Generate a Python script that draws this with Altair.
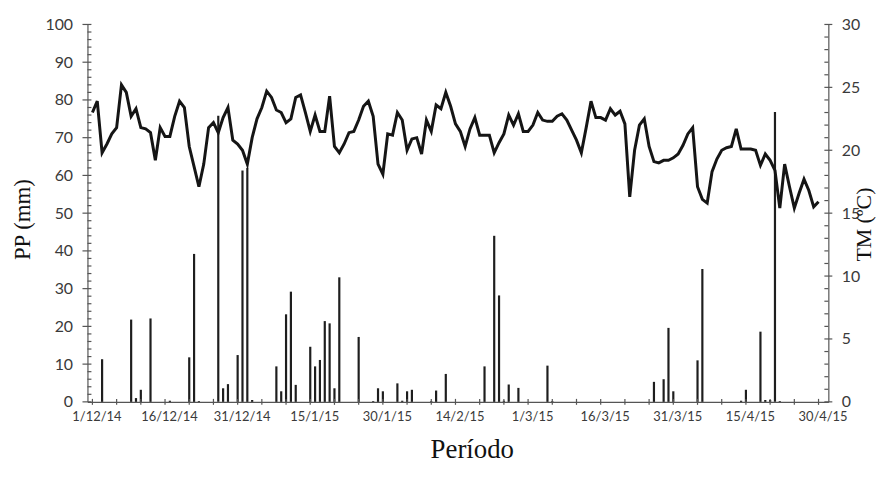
import altair as alt
import pandas as pd

W, H = 746, 380

# x tick labels (every 15 days, day index 0 = 1/12/14)
x_labels = ["1/12/14", "16/12/14", "31/12/14", "15/1/15", "30/1/15", "14/2/15",
            "1/3/15", "16/3/15", "31/3/15", "15/4/15", "30/4/15"]

# daily mean temperature TM (ºC), 1/12/14 .. 30/4/15
tm = [23.0, 23.9, 19.8, 20.5, 21.3, 21.8, 25.2, 24.6, 22.7, 23.3,
      21.8, 21.7, 21.4, 19.2, 21.8, 21.1, 21.1, 22.7, 23.9, 23.4,
      20.3, 18.7, 17.1, 18.9, 21.8, 22.2, 21.4, 22.6, 23.4, 20.8,
      20.5, 20.0, 18.9, 21.0, 22.5, 23.4, 24.7, 24.2, 23.2, 23.0,
      22.2, 22.5, 24.2, 24.4, 23.0, 21.5, 22.8, 21.5, 21.5, 24.3,
      20.3, 19.8, 20.5, 21.4, 21.5, 22.4, 23.5, 23.9, 22.7, 18.9,
      18.1, 21.3, 21.2, 23.0, 22.4, 20.0, 20.9, 21.0, 19.7, 22.4,
      21.5, 23.6, 23.3, 24.6, 23.5, 22.1, 21.5, 20.3, 21.7, 22.6,
      21.2, 21.2, 21.2, 19.8, 20.6, 21.3, 22.8, 22.0, 22.9, 21.5,
      21.5, 22.0, 23.0, 22.4, 22.3, 22.3, 22.7, 22.9, 22.4, 21.6,
      20.8, 19.8, 21.8, 23.9, 22.6, 22.6, 22.4, 23.3, 22.8, 23.1,
      22.1, 16.3, 20.0, 22.0, 22.5, 20.3, 19.1, 19.0, 19.2, 19.2,
      19.4, 19.7, 20.4, 21.3, 21.8, 17.1, 16.1, 15.8, 18.3, 19.3,
      20.0, 20.2, 20.3, 21.7, 20.1, 20.1, 20.1, 20.0, 18.8, 19.7,
      19.2, 18.4, 15.4, 18.9, 17.1, 15.4, 16.6, 17.7, 16.8, 15.5,
      15.9]
tm_days = list(range(len(tm)))

# daily precipitation PP (mm): rainy days (day index) and amounts
pp_days = [2, 8, 9, 10, 12, 16, 20, 21, 22, 26, 27, 28, 30, 31, 32, 33, 38, 39, 40, 41,
           42, 45, 46, 47, 48, 49, 50, 51, 55, 58, 59, 60, 63, 64, 65, 66, 70, 71, 73, 81,
           83, 84, 85, 86, 88, 94, 95, 116, 118, 119, 120, 125, 126, 134, 135, 138, 139, 140, 141, 142]
pp_vals = [11.3, 21.8, 1.0, 3.2, 22.1, 0.3, 11.8, 39.2, 0.2, 75.8, 3.6, 4.7, 12.4, 61.3, 62.0, 0.5, 9.4, 2.8, 23.2, 29.2,
           4.5, 14.6, 9.4, 11.1, 21.4, 20.8, 3.6, 33.0, 17.2, 0.2, 3.6, 2.8, 4.9, 0.3, 2.8, 3.2, 0.2, 3.0, 7.4, 9.4,
           44.0, 28.2, 0.3, 4.6, 3.7, 9.6, 0.2, 5.3, 6.0, 19.6, 2.8, 11.0, 35.2, 0.3, 3.2, 18.6, 0.5, 0.5, 76.8, 0.2]

# axis tick values
x_label_ticks = list(range(0, 151, 15))
x_minor = list(range(0, 151, 5))
pp_major = list(range(0, 101, 10))
pp_minor = [v for v in range(0, 101, 2) if v % 10]
tm_major = list(range(0, 31, 5))
tm_minor = [v for v in range(0, 31) if v % 5]

pp_df = pd.DataFrame({"day": pp_days, "pp": pp_vals})
tm_df = pd.DataFrame({"day": tm_days, "tm": tm})

AX = "#555555"
LBL = "#3a3a3a"
FONT = "Lato"
SERIF = "Liberation Serif"

label_expr = "[" + ",".join(f"'{s}'" for s in x_labels) + "][round(datum.value/15)]"
x_scale = alt.Scale(domain=[0, 151], nice=False, zero=False)
x_axis = alt.Axis(values=x_label_ticks, labelExpr=label_expr, ticks=False, tickSize=0,
                  labelPadding=9, labelOffset=4, labelFont=FONT, labelFontSize=13,
                  labelColor=LBL, domainColor=AX, domainWidth=1.2, grid=False,
                  title="Período", titleFont=SERIF, titleFontSize=27,
                  titleFontWeight="normal", titleColor="#111111", titleX=387, titleY=56,
                  titleBaseline="alphabetic", titleAlign="center")

pp_scale = alt.Scale(domain=[0, 100], nice=False, zero=True)
tm_scale = alt.Scale(domain=[0, 30], nice=False, zero=True)

bars = alt.Chart(pp_df).mark_bar(size=2.2, color="#1e1e1e").encode(
    x=alt.X("day:Q", scale=x_scale, axis=x_axis),
    y=alt.Y("pp:Q", scale=pp_scale,
            axis=alt.Axis(orient="left", values=pp_major, ticks=False, tickSize=0,
                          labelPadding=15, labelFont=FONT, labelFontSize=16, labelColor=LBL,
                          domainColor=AX, domainWidth=1.2, grid=False,
                          title="PP (mm)", titleFont=SERIF, titleFontSize=23,
                          titleFontWeight="normal", titleColor="#111111",
                          titleAngle=270, titleX=-65, titleY=196,
                          titleBaseline="middle", titleAlign="center")),
)

line = alt.Chart(tm_df).mark_line(color="#151515", strokeWidth=3).encode(
    x=alt.X("day:Q", scale=x_scale, axis=x_axis),
    y=alt.Y("tm:Q", scale=tm_scale,
            axis=alt.Axis(orient="right", values=tm_major, ticks=False, tickSize=0,
                          labelPadding=13, labelFont=FONT, labelFontSize=16, labelColor=LBL,
                          domainColor=AX, domainWidth=1.2, grid=False,
                          title="TM (ºC)", titleFont=SERIF, titleFontSize=22,
                          titleFontWeight="normal", titleColor="#111111",
                          titleAngle=270, titleX=35, titleY=201,
                          titleBaseline="middle", titleAlign="center")),
)

def hticks(vals, scale, x1, x2):
    return alt.Chart(pd.DataFrame({"v": vals})).mark_rule(color=AX, strokeWidth=1.2).encode(
        y=alt.Y("v:Q", scale=scale, axis=None), x=alt.value(x1), x2=alt.value(x2))

left_major = hticks(pp_major, pp_scale, -5, 4)
left_minor = hticks(pp_minor, pp_scale, 0, 4)
right_major = hticks(tm_major, tm_scale, W - 4, W + 4)
right_minor = hticks(tm_minor, tm_scale, W - 4, W)

x_ticks = alt.Chart(pd.DataFrame({"d": x_minor})).mark_rule(color=AX, strokeWidth=1.2).encode(
    x=alt.X("d:Q", scale=x_scale, axis=x_axis), y=alt.value(H - 3), y2=alt.value(H + 3))

chart = alt.layer(bars, line, left_major, left_minor, right_major, right_minor, x_ticks).resolve_scale(
    y="independent"
).properties(
    width=W, height=H,
    autosize=alt.AutoSizeParams(type="none"),
    padding={"left": 80, "top": 15, "right": 50, "bottom": 62},
    background="white",
).configure_view(stroke=None)

chart.save("out.html", embed_options={"renderer": "svg", "actions": False})
